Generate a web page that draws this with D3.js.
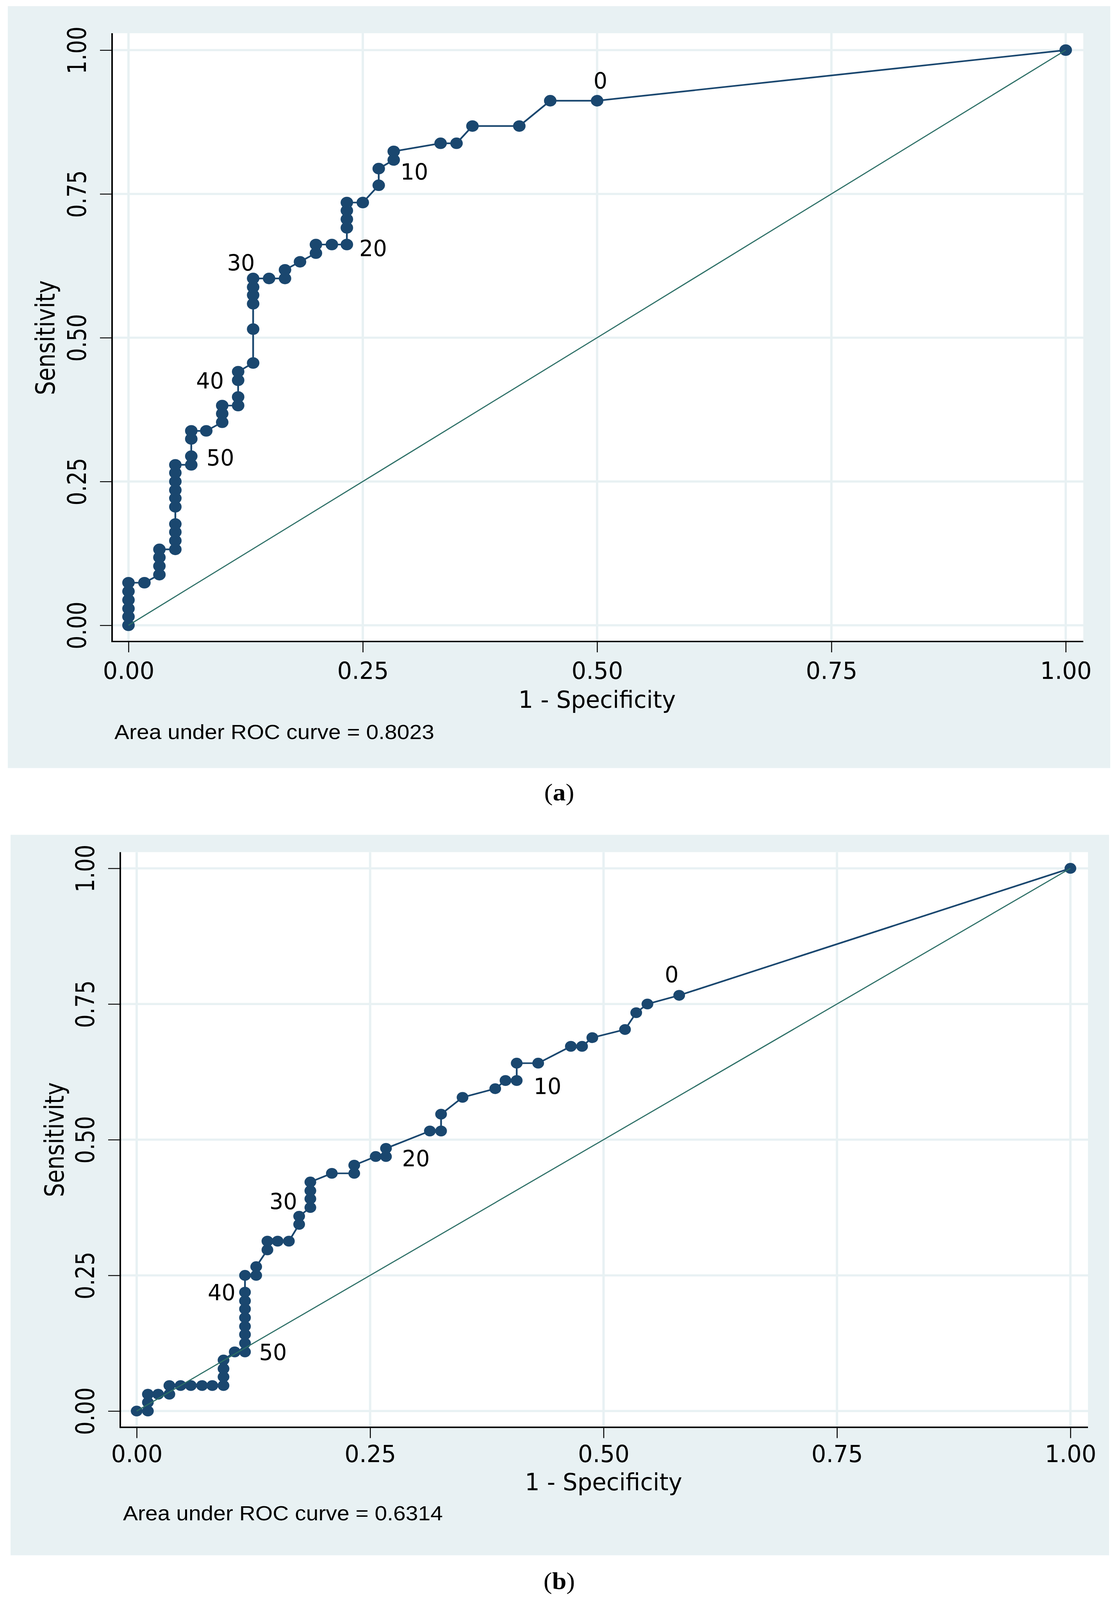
<!DOCTYPE html>
<html>
<head>
<meta charset="utf-8">
<script src="https://cdnjs.cloudflare.com/ajax/libs/d3/7.8.5/d3.min.js"></script>
<style>
html, body { margin: 0; padding: 0; background: #fff; overflow: hidden; }
svg { display: block; }
</style>
</head>
<body>
<svg id="chart"></svg>
<script>
// axis ticks (same on both panels)
var tickValues = [0, 0.25, 0.5, 0.75, 1];
var tickLabels = ["0.00", "0.25", "0.50", "0.75", "1.00"];

// panel (a): ROC points, 1 - specificity and sensitivity
var fprA = [0, 0, 0, 0, 0, 0, 0.017, 0.033, 0.033, 0.033, 0.033, 0.05, 0.05, 0.05, 0.05, 0.05, 0.05, 0.05, 0.05, 0.05, 0.05,
  0.067, 0.067, 0.067, 0.067, 0.083, 0.1, 0.1, 0.1, 0.117, 0.117, 0.117, 0.117, 0.133, 0.133, 0.133, 0.133, 0.133, 0.133,
  0.15, 0.167, 0.167, 0.183, 0.2, 0.2, 0.217, 0.233, 0.233, 0.233, 0.233, 0.233, 0.25, 0.267, 0.267, 0.283, 0.283,
  0.333, 0.35, 0.367, 0.417, 0.45, 0.5, 1];
var sensA = [0, 0.015, 0.029, 0.044, 0.059, 0.074, 0.074, 0.088, 0.103, 0.118, 0.132, 0.132, 0.147, 0.162, 0.176, 0.206, 0.221, 0.235, 0.25, 0.265, 0.279,
  0.279, 0.294, 0.324, 0.338, 0.338, 0.353, 0.368, 0.382, 0.382, 0.397, 0.426, 0.441, 0.456, 0.515, 0.559, 0.574, 0.588, 0.603,
  0.603, 0.603, 0.618, 0.632, 0.647, 0.662, 0.662, 0.662, 0.691, 0.706, 0.721, 0.735, 0.735, 0.765, 0.794, 0.809, 0.824,
  0.838, 0.838, 0.868, 0.868, 0.912, 0.912, 1];
var cutTextA = ["0", "10", "20", "30", "40", "50"];
var cutXA = [0.5035, 0.305, 0.261, 0.12, 0.087, 0.098];
var cutYA = [0.946, 0.788, 0.655, 0.63, 0.425, 0.291];
var aucA = "Area under ROC curve = 0.8023";

// panel (b)
var fprB = [0, 0.012, 0.012, 0.012, 0.023, 0.035, 0.035, 0.047, 0.058, 0.07, 0.081, 0.093, 0.093, 0.093, 0.093,
  0.105, 0.116, 0.116, 0.116, 0.116, 0.116, 0.116, 0.116, 0.116, 0.116, 0.128, 0.128, 0.14, 0.14, 0.151, 0.163,
  0.174, 0.174, 0.186, 0.186, 0.186, 0.186, 0.209, 0.233, 0.233, 0.256, 0.267, 0.267, 0.314, 0.326, 0.326,
  0.349, 0.384, 0.395, 0.407, 0.407, 0.43, 0.465, 0.477, 0.488, 0.523, 0.535, 0.547, 0.581, 1];
var sensB = [0, 0, 0.016, 0.031, 0.031, 0.031, 0.047, 0.047, 0.047, 0.047, 0.047, 0.047, 0.063, 0.078, 0.094,
  0.109, 0.109, 0.125, 0.141, 0.156, 0.172, 0.188, 0.203, 0.219, 0.25, 0.25, 0.266, 0.297, 0.313, 0.313, 0.313,
  0.344, 0.359, 0.375, 0.391, 0.406, 0.422, 0.438, 0.438, 0.453, 0.469, 0.469, 0.484, 0.516, 0.516, 0.547,
  0.578, 0.594, 0.609, 0.609, 0.641, 0.641, 0.672, 0.672, 0.688, 0.703, 0.734, 0.75, 0.766, 1];
var cutTextB = ["0", "10", "20", "30", "40", "50"];
var cutXB = [0.573, 0.44, 0.299, 0.157, 0.091, 0.146];
var cutYB = [0.804, 0.598, 0.465, 0.386, 0.218, 0.108];
var aucB = "Area under ROC curve = 0.6314";

// reference diagonal
var refX = [0, 1];
var refY = [0, 1];

var W = 2868, H = 4437;
var navy = "#1a476f", teal = "#2c6f66", panelBg = "#e8f1f3", gridCol = "#e8f1f3";
var fontMain = "'DejaVu Sans Condensed', 'DejaVu Sans', sans-serif";

// the window can be shorter than the page, so fit the drawing to it
var vw = document.documentElement.clientWidth || window.innerWidth || W;
var vh = document.documentElement.clientHeight || window.innerHeight || H;

var svg = d3.select("#chart").attr("width", vw).attr("height", vh)
  .attr("viewBox", "0 0 " + W + " " + H)
  .attr("preserveAspectRatio", "none");

svg.append("rect").attr("width", W).attr("height", H).attr("fill", "#fff");

// page layout of the two panels (pixels)
var layoutA = {
  bgX: 20, bgY: 17, bgW: 2823, bgH: 2113,
  left: 287, right: 2774, top: 92, bottom: 1779,
  x0: 329, x1: 2729, y0: 1734, y1: 139,
  xTickY: 1860, xTitleY: 1940, noteX: 293, noteY: 2030,
  yTickX: 197, yTitleX: 116, capY: 2197
};
var layoutB = {
  bgX: 27, bgY: 2315, bgW: 2813, bgH: 1998,
  left: 308, right: 2786, top: 2363, bottom: 3958,
  x0: 350, x1: 2741, y0: 3913, y1: 2408,
  xTickY: 4032, xTitleY: 4110, noteX: 315, noteY: 4196,
  yTickX: 218, yTitleX: 139, capY: 4384
};

function drawPanel(L, fpr, sens, cutText, cutX, cutY, auc, capLetter, rMark) {
  var g = svg.append("g");

  var x = d3.scaleLinear().domain([0, 1]).range([L.x0, L.x1]);
  var y = d3.scaleLinear().domain([0, 1]).range([L.y0, L.y1]);

  g.append("rect").attr("x", L.bgX).attr("y", L.bgY).attr("width", L.bgW).attr("height", L.bgH)
    .attr("fill", panelBg);
  g.append("rect").attr("x", L.left).attr("y", L.top)
    .attr("width", L.right - L.left).attr("height", L.bottom - L.top)
    .attr("fill", "#fff");

  // grid
  g.append("g").selectAll("line").data(tickValues).enter().append("line")
    .attr("x1", function(d) { return x(d); }).attr("x2", function(d) { return x(d); })
    .attr("y1", L.top).attr("y2", L.bottom)
    .attr("stroke", gridCol).attr("stroke-width", 6);
  g.append("g").selectAll("line").data(tickValues).enter().append("line")
    .attr("y1", function(d) { return y(d); }).attr("y2", function(d) { return y(d); })
    .attr("x1", L.left).attr("x2", L.right)
    .attr("stroke", gridCol).attr("stroke-width", 6);

  var pts = fpr.map(function(v, i) { return [v, sens[i]]; });
  var line = d3.line().x(function(d) { return x(d[0]); }).y(function(d) { return y(d[1]); });

  g.append("path").datum(pts).attr("d", line)
    .attr("fill", "none").attr("stroke", navy).attr("stroke-width", 4.5)
    .attr("stroke-linejoin", "round");

  g.append("g").selectAll("circle").data(pts).enter().append("circle")
    .attr("cx", function(d) { return x(d[0]); })
    .attr("cy", function(d) { return y(d[1]); })
    .attr("r", rMark)
    .attr("fill", navy);

  var ref = refX.map(function(v, i) { return [v, refY[i]]; });
  g.append("path").datum(ref).attr("d", line)
    .attr("fill", "none").attr("stroke", teal).attr("stroke-width", 3);

  // cutpoint labels
  g.append("g").selectAll("text").data(cutText).enter().append("text")
    .attr("x", function(d, i) { return x(cutX[i]); })
    .attr("y", function(d, i) { return y(cutY[i]); })
    .attr("text-anchor", "middle").attr("dominant-baseline", "central")
    .attr("font-family", fontMain).attr("font-size", 62).attr("fill", "#000")
    .text(function(d) { return d; });

  // axes
  var xAxis = d3.axisBottom(x).tickValues(tickValues).tickSizeInner(30).tickSizeOuter(0)
    .tickFormat(function(d, i) { return tickLabels[i]; });
  var gx = g.append("g").attr("transform", "translate(0," + L.bottom + ")").call(xAxis);
  gx.select(".domain").remove();
  gx.selectAll(".tick line").attr("stroke", "#000").attr("stroke-width", 2.5);
  gx.selectAll(".tick text").attr("y", L.xTickY - L.bottom).attr("dy", "0.35em")
    .attr("font-family", fontMain).attr("font-size", 66).attr("fill", "#000");

  var yAxis = d3.axisLeft(y).tickValues(tickValues).tickSizeInner(31).tickSizeOuter(0)
    .tickFormat(function(d, i) { return tickLabels[i]; });
  var gy = g.append("g").attr("transform", "translate(" + L.left + ",0)").call(yAxis);
  gy.select(".domain").remove();
  gy.selectAll(".tick line").attr("stroke", "#000").attr("stroke-width", 2.5);
  gy.selectAll(".tick text").attr("x", 0).attr("dy", "0.35em")
    .attr("text-anchor", "middle")
    .attr("transform", "translate(" + (L.yTickX - L.left) + ",0) rotate(-90)")
    .attr("font-family", fontMain).attr("font-size", 66).attr("fill", "#000");

  g.append("line").attr("x1", L.left).attr("x2", L.right).attr("y1", L.bottom).attr("y2", L.bottom)
    .attr("stroke", "#000").attr("stroke-width", 4);
  g.append("line").attr("x1", L.left).attr("x2", L.left).attr("y1", L.top).attr("y2", L.bottom + 2)
    .attr("stroke", "#000").attr("stroke-width", 4);

  // titles
  g.append("text").attr("x", x(0.5)).attr("y", L.xTitleY)
    .attr("text-anchor", "middle").attr("dominant-baseline", "central")
    .attr("font-family", fontMain).attr("font-size", 66).text("1 - Specificity");
  g.append("text")
    .attr("transform", "translate(" + L.yTitleX + "," + y(0.5) + ") rotate(-90)")
    .attr("text-anchor", "middle").attr("dominant-baseline", "central")
    .attr("font-family", fontMain).attr("font-size", 68).text("Sensitivity");

  g.append("text").attr("x", L.noteX).attr("y", L.noteY).attr("dominant-baseline", "central")
    .attr("font-family", "'Liberation Sans', Arial, sans-serif").attr("font-size", 57)
    .text(auc);

  var cap = g.append("text").attr("x", 1432).attr("y", L.capY)
    .attr("text-anchor", "middle").attr("dominant-baseline", "central")
    .attr("font-family", "'Liberation Serif', 'Times New Roman', serif").attr("font-size", 66);
  cap.append("tspan").text("(");
  cap.append("tspan").attr("font-weight", "bold").text(capLetter);
  cap.append("tspan").text(")");
}

drawPanel(layoutA, fprA, sensA, cutTextA, cutXA, cutYA, aucA, "a", 16);
drawPanel(layoutB, fprB, sensB, cutTextB, cutXB, cutYB, aucB, "b", 15);
</script>
</body>
</html>
